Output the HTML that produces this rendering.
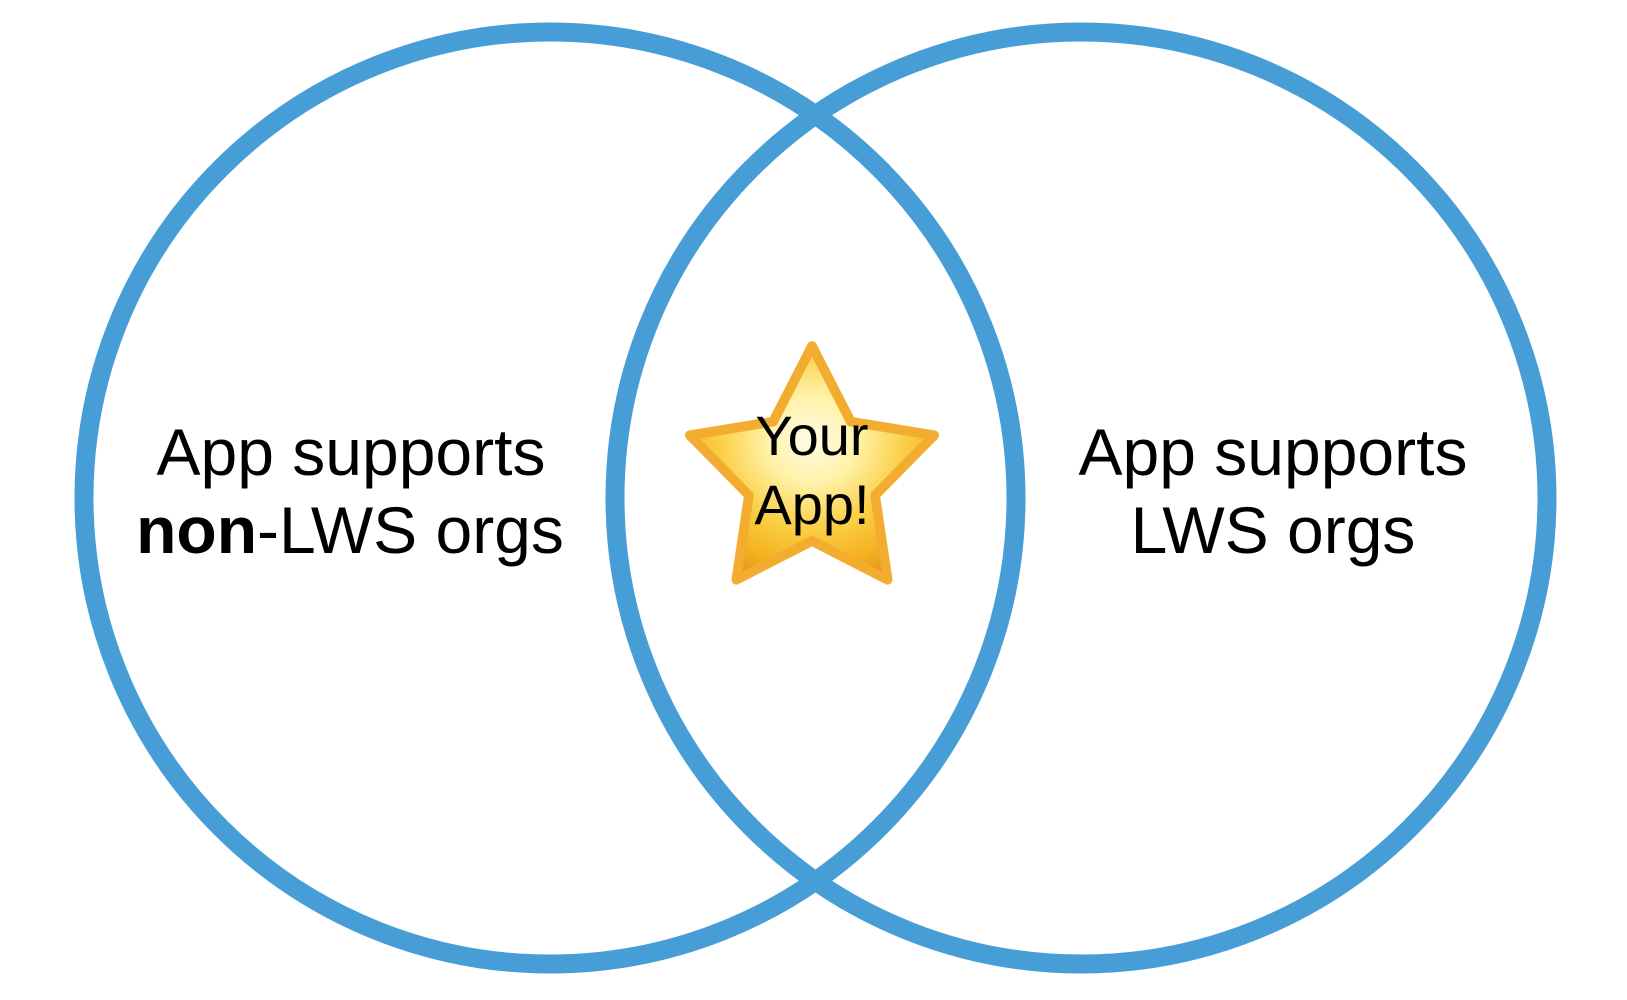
<!DOCTYPE html>
<html><head><meta charset="utf-8"><style>
html,body{margin:0;padding:0;background:#fff;}
svg{display:block;}
text{font-family:"Liberation Sans",Arial,sans-serif;fill:#000;}
</style></head><body>
<svg width="1627" height="1000" viewBox="0 0 1627 1000" xmlns="http://www.w3.org/2000/svg">
<defs>
<radialGradient id="g" cx="0.5" cy="0.4" r="0.62">
<stop offset="0" stop-color="#fffce8"/>
<stop offset="0.3" stop-color="#fff2a8"/>
<stop offset="0.6" stop-color="#fbd048"/>
<stop offset="0.85" stop-color="#f5b421"/>
<stop offset="1" stop-color="#e99a1c"/>
</radialGradient>
</defs>
<circle cx="550" cy="498" r="466" fill="none" stroke="#479ed7" stroke-width="19"/>
<circle cx="1081" cy="498" r="466" fill="none" stroke="#479ed7" stroke-width="19"/>
<g transform="translate(812,475) scale(0.97) translate(-812,-475)">
<polygon points="812,342 852,420 938,434 877,496 890,583 812,543 734,583 747,496 686,434 772,420" fill="url(#g)" stroke="#f2ad30" stroke-width="10" stroke-linejoin="round"/>
</g>
<text x="812" y="455" font-size="56" text-anchor="middle">Your</text>
<text x="812" y="524" font-size="56" text-anchor="middle">App!</text>
<text x="351" y="475" font-size="66" text-anchor="middle">App supports</text>
<text x="350" y="553" font-size="66" text-anchor="middle"><tspan font-weight="bold">non</tspan>-LWS orgs</text>
<text x="1273" y="475" font-size="66" text-anchor="middle">App supports</text>
<text x="1273" y="553" font-size="66" text-anchor="middle">LWS orgs</text>
</svg>
</body></html>
